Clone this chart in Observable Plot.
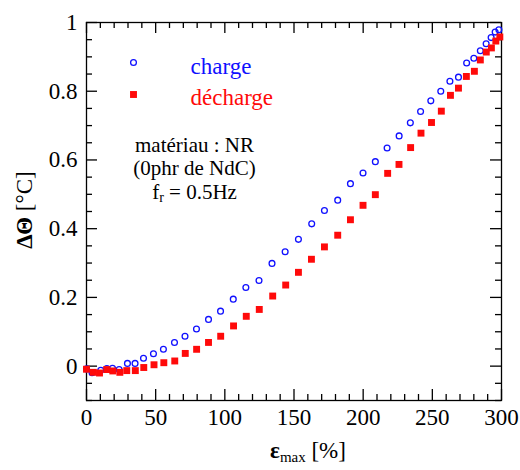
<!DOCTYPE html>
<html>
<head>
<meta charset="utf-8">
<script src="https://cdn.jsdelivr.net/npm/d3@7"></script>
<script src="https://cdn.jsdelivr.net/npm/@observablehq/plot@0.6"></script>
<style>
  html, body { margin: 0; padding: 0; background: white; }
</style>
</head>
<body>
<div id="chart"></div>
<script>
// ---- data ----
const chargeX = [0, 4, 10.3, 14.7, 18.8, 23.6, 29.6, 35.1, 41.2, 48.4, 55.6, 63.6, 71.2, 79.5, 88.2, 96.9, 106.1, 115.2, 124.7, 134.1, 143.6, 153.2, 162.8, 172.0, 181.6, 190.8, 199.9, 208.8, 217.3, 226.0, 234.1, 241.5, 248.9, 256.1, 262.7, 268.9, 274.8, 280.0, 284.7, 288.9, 292.5, 295.4, 298.1];
const chargeY = [-0.008, -0.019, -0.012, -0.007, -0.006, -0.010, 0.008, 0.008, 0.023, 0.036, 0.049, 0.069, 0.087, 0.108, 0.136, 0.160, 0.195, 0.229, 0.249, 0.299, 0.333, 0.369, 0.414, 0.453, 0.483, 0.531, 0.562, 0.595, 0.635, 0.670, 0.708, 0.741, 0.772, 0.800, 0.829, 0.841, 0.882, 0.896, 0.918, 0.938, 0.956, 0.972, 0.979];
const dechargeX = [0, 4.9, 9.4, 14.6, 19.0, 24.1, 29.1, 35.3, 41.4, 48.8, 55.9, 63.8, 71.4, 79.6, 88.2, 97.0, 106.3, 115.5, 124.9, 134.6, 144.0, 153.2, 162.6, 172.0, 181.6, 190.8, 199.9, 208.8, 217.7, 225.9, 234.3, 241.8, 249.4, 256.5, 263.1, 268.9, 274.6, 280.4, 284.7, 289.0, 292.7, 295.9, 298.8];
const dechargeY = [-0.009, -0.018, -0.020, -0.010, -0.014, -0.018, -0.013, -0.013, -0.004, 0.004, 0.010, 0.015, 0.037, 0.049, 0.069, 0.087, 0.117, 0.145, 0.165, 0.204, 0.236, 0.273, 0.311, 0.347, 0.381, 0.426, 0.468, 0.499, 0.561, 0.587, 0.636, 0.678, 0.709, 0.742, 0.788, 0.809, 0.843, 0.858, 0.891, 0.914, 0.926, 0.946, 0.958];

const xMajorTicks = [0, 50, 100, 150, 200, 250, 300];
const xMinorTicks = [10, 20, 30, 40, 60, 70, 80, 90, 110, 120, 130, 140, 160, 170, 180, 190, 210, 220, 230, 240, 260, 270, 280, 290];
const yMajorTicks = [0, 0.2, 0.4, 0.6, 0.8, 1];
const yTickLabels = ["0", "0.2", "0.4", "0.6", "0.8", "1"];
const yMinorTicks = [-0.1, -0.05, 0.05, 0.1, 0.15, 0.25, 0.3, 0.35, 0.45, 0.5, 0.55, 0.65, 0.7, 0.75, 0.85, 0.9, 0.95];

const seriesNames = ["charge", "décharge"];
const annotLines = ["matériau : NR", "(0phr de NdC)", "fr = 0.5Hz"];

const charge = chargeX.map((x, i) => ({x, y: chargeY[i]}));
const decharge = dechargeX.map((x, i) => ({x, y: dechargeY[i]}));

// ---- layout ----
const W = 520, H = 470;
const mL = 86, mR = 19, mT = 22, mB = 70;
const frameW = W - mL - mR, frameH = H - mT - mB;
const majorLen = 11, minorLen = 6;
const blue = "#1010ff", red = "#ff0a0a";
const FS = 23;
const FONT = "'Liberation Serif', 'Times New Roman', serif";

const tickOpts = {stroke: "black", strokeWidth: 1.3};

const plot = Plot.plot({
  width: W, height: H,
  marginLeft: mL, marginRight: mR, marginTop: mT, marginBottom: mB,
  style: {fontFamily: FONT, fontSize: FS + "px", background: "white", color: "black", overflow: "visible"},
  x: {domain: [0, 300]},
  y: {domain: [-0.1, 1]},
  marks: [
    Plot.tickX(xMajorTicks, {x: d => d, insetTop: frameH - majorLen, ...tickOpts}),
    Plot.tickX(xMinorTicks, {x: d => d, insetTop: frameH - minorLen, ...tickOpts}),
    Plot.tickX(xMajorTicks, {x: d => d, insetBottom: frameH - majorLen, ...tickOpts}),
    Plot.tickX(xMinorTicks, {x: d => d, insetBottom: frameH - minorLen, ...tickOpts}),
    Plot.tickY(yMajorTicks, {y: d => d, insetRight: frameW - majorLen, ...tickOpts}),
    Plot.tickY(yMinorTicks, {y: d => d, insetRight: frameW - minorLen, ...tickOpts}),
    Plot.tickY(yMajorTicks, {y: d => d, insetLeft: frameW - majorLen, ...tickOpts}),
    Plot.tickY(yMinorTicks, {y: d => d, insetLeft: frameW - minorLen, ...tickOpts}),
    Plot.axisX(xMajorTicks, {tickSize: 0, tickPadding: 8, label: null, fontSize: FS, tickFormat: d => String(d)}),
    Plot.axisY(yMajorTicks, {tickSize: 0, tickPadding: 9, label: null, fontSize: FS, tickFormat: (d, i) => yTickLabels[i]}),
    Plot.frame({stroke: "black", strokeWidth: 1.3}),
    Plot.dot(charge, {x: "x", y: "y", r: 2.9, stroke: blue, strokeWidth: 1.3, fill: "none"}),
    Plot.dot(decharge, {x: "x", y: "y", r: 3.9, symbol: "square", fill: red, stroke: "none"}),
    // legend
    Plot.dot([seriesNames[0]], {frameAnchor: "top-left", dx: 47, dy: 40, r: 2.9, stroke: blue, strokeWidth: 1.3, fill: "none"}),
    Plot.dot([seriesNames[1]], {frameAnchor: "top-left", dx: 47, dy: 72, r: 3.9, symbol: "square", fill: red, stroke: "none"}),
    Plot.text([seriesNames[0]], {text: d => d, frameAnchor: "top-left", dx: 104, dy: 51, textAnchor: "start", lineAnchor: "bottom", fill: blue, fontSize: FS}),
    Plot.text([seriesNames[1]], {text: d => d, frameAnchor: "top-left", dx: 104, dy: 82, textAnchor: "start", lineAnchor: "bottom", fill: red, fontSize: FS}),
    // annotation (one multi-line text block)
    Plot.text([annotLines.join("\n")], {text: d => d, frameAnchor: "top-left", dx: 108, dy: 176, textAnchor: "middle", lineAnchor: "bottom", lineHeight: 1.1, fill: "black", fontSize: 21, className: "annot"})
  ]
});

document.getElementById("chart").appendChild(plot);

const svg = d3.select(plot);

// subscript r in f_r
svg.selectAll(".annot tspan").each(function () {
  const t = d3.select(this);
  const s = t.text();
  if (s.startsWith("fr")) {
    t.text("");
    t.append("tspan").text("f");
    t.append("tspan").attr("font-size", 14).attr("dy", 3).text("r");
    t.append("tspan").attr("dy", -3).text(s.slice(2));
  }
});

// x-axis label: ε_max [%]
const xl = svg.append("text")
  .attr("x", 308).attr("y", 458)
  .attr("text-anchor", "middle")
  .attr("font-size", FS)
  .attr("fill", "black");
xl.append("tspan").attr("font-weight", "bold").text("ε");
xl.append("tspan").attr("font-size", 15).attr("dy", 4).text("max");
xl.append("tspan").attr("dy", -4).text(" [%]");

// y-axis label: ΔΘ [°C]
const yl = svg.append("text")
  .attr("transform", "translate(32,210) rotate(-90)")
  .attr("text-anchor", "middle")
  .attr("font-size", FS)
  .attr("fill", "black");
yl.append("tspan").attr("font-weight", "bold").text("ΔΘ");
yl.append("tspan").text(" [°C]");

// force serif font everywhere
svg.selectAll("text").attr("font-family", FONT).style("font-family", FONT);
</script>
</body>
</html>
